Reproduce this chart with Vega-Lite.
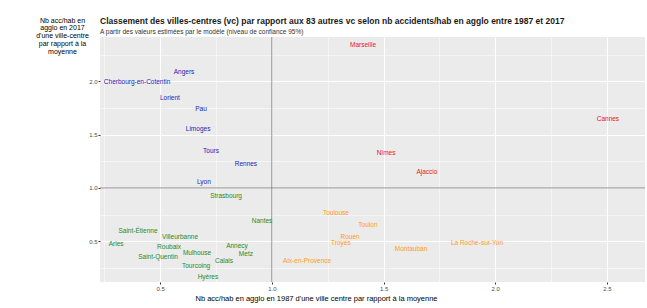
{
  "$schema": "https://vega.github.io/schema/vega-lite/v6.json",
  "autosize": "none",
  "width": 545,
  "height": 245,
  "padding": {"left": 100, "top": 37, "right": 2, "bottom": 26},
  "background": "white",
  "config": {
    "font": "Liberation Sans",
    "view": {"fill": "#ebebeb", "stroke": null},
    "title": {"anchor": "start", "frame": "group", "fontSize": 8.5, "fontWeight": "bold", "color": "#1a1a1a", "subtitleFontSize": 6.5, "subtitleColor": "#333333", "offset": 4, "subtitlePadding": 3}
  },
  "title": {
    "text": "Classement des villes-centres (vc) par rapport aux 83 autres vc selon nb accidents/hab en agglo entre 1987 et 2017",
    "subtitle": "A partir des valeurs estimées par le modèle (niveau de confiance 95%)",
    "dy": 23
  },
  "data": {
    "values": [
      {"ville": "Angers", "x": 0.607, "y": 2.087, "groupe": "bleu"},
      {"ville": "Cherbourg-en-Cotentin", "x": 0.397, "y": 1.993, "groupe": "bleu"},
      {"ville": "Lorient", "x": 0.544, "y": 1.843, "groupe": "bleu"},
      {"ville": "Pau", "x": 0.683, "y": 1.74, "groupe": "bleu"},
      {"ville": "Limoges", "x": 0.67, "y": 1.553, "groupe": "bleu"},
      {"ville": "Tours", "x": 0.728, "y": 1.347, "groupe": "bleu"},
      {"ville": "Rennes", "x": 0.884, "y": 1.225, "groupe": "bleu"},
      {"ville": "Lyon", "x": 0.696, "y": 1.056, "groupe": "bleu"},
      {"ville": "Strasbourg", "x": 0.795, "y": 0.925, "groupe": "vert"},
      {"ville": "Nantes", "x": 0.956, "y": 0.691, "groupe": "vert"},
      {"ville": "Saint-Étienne", "x": 0.401, "y": 0.597, "groupe": "vert"},
      {"ville": "Arles", "x": 0.303, "y": 0.475, "groupe": "vert"},
      {"ville": "Villeurbanne", "x": 0.589, "y": 0.541, "groupe": "vert"},
      {"ville": "Roubaix", "x": 0.54, "y": 0.447, "groupe": "vert"},
      {"ville": "Mulhouse", "x": 0.665, "y": 0.391, "groupe": "vert"},
      {"ville": "Saint-Quentin", "x": 0.491, "y": 0.353, "groupe": "vert"},
      {"ville": "Annecy", "x": 0.844, "y": 0.456, "groupe": "vert"},
      {"ville": "Metz", "x": 0.884, "y": 0.381, "groupe": "vert"},
      {"ville": "Calais", "x": 0.786, "y": 0.316, "groupe": "vert"},
      {"ville": "Tourcoing", "x": 0.661, "y": 0.269, "groupe": "vert"},
      {"ville": "Hyères", "x": 0.714, "y": 0.166, "groupe": "vert"},
      {"ville": "Toulouse", "x": 1.287, "y": 0.766, "groupe": "orange"},
      {"ville": "Toulon", "x": 1.43, "y": 0.653, "groupe": "orange"},
      {"ville": "Rouen", "x": 1.35, "y": 0.541, "groupe": "orange"},
      {"ville": "Troyes", "x": 1.309, "y": 0.485, "groupe": "orange"},
      {"ville": "Montauban", "x": 1.623, "y": 0.428, "groupe": "orange"},
      {"ville": "La Roche-sur-Yon", "x": 1.918, "y": 0.485, "groupe": "orange"},
      {"ville": "Aix-en-Provence", "x": 1.158, "y": 0.316, "groupe": "orange"},
      {"ville": "Marseille", "x": 1.408, "y": 2.34, "groupe": "rouge"},
      {"ville": "Nîmes", "x": 1.511, "y": 1.328, "groupe": "rouge"},
      {"ville": "Ajaccio", "x": 1.694, "y": 1.15, "groupe": "rouge"},
      {"ville": "Cannes", "x": 2.504, "y": 1.647, "groupe": "rouge"}
    ]
  },
  "encoding": {
    "x": {
      "field": "x", "type": "quantitative",
      "scale": {"domain": [0.231, 2.67], "nice": false, "zero": false},
      "axis": {
        "values": [0.25, 0.5, 0.75, 1, 1.25, 1.5, 1.75, 2, 2.25, 2.5],
        "labelExpr": "(datum.value * 2) % 1 == 0 ? format(datum.value, '.1f') : ''",
        "domain": false,
        "grid": true,
        "gridColor": "white",
        "gridWidth": {"condition": {"test": "(datum.value * 2) % 1 == 0", "value": 1.1}, "value": 0.5},
        "tickOpacity": {"condition": {"test": "(datum.value * 2) % 1 == 0", "value": 1}, "value": 0},
        "tickColor": "#333333",
        "tickSize": 2,
        "labelPadding": 1,
        "labelFontSize": 6,
        "labelColor": "#4d4d4d",
        "title": "Nb acc/hab en agglo en 1987 d'une ville centre par rapport à la moyenne",
        "titleFontSize": 7.5,
        "titleFontWeight": "normal",
        "titleColor": "#000000",
        "titleX": 216,
        "titleY": 16,
        "titleAlign": "center",
        "titleBaseline": "middle"
      }
    },
    "y": {
      "field": "y", "type": "quantitative",
      "scale": {"domain": [0.119, 2.415], "nice": false, "zero": false},
      "axis": {
        "values": [0.25, 0.5, 0.75, 1, 1.25, 1.5, 1.75, 2, 2.25],
        "labelExpr": "(datum.value * 2) % 1 == 0 ? format(datum.value, '.1f') : ''",
        "domain": false,
        "grid": true,
        "gridColor": "white",
        "gridWidth": {"condition": {"test": "(datum.value * 2) % 1 == 0", "value": 1.1}, "value": 0.5},
        "tickOpacity": {"condition": {"test": "(datum.value * 2) % 1 == 0", "value": 1}, "value": 0},
        "tickColor": "#333333",
        "tickSize": 2,
        "labelPadding": 1,
        "labelFontSize": 6,
        "labelColor": "#4d4d4d",
        "title": ["Nb acc/hab en", "agglo en 2017", "d'une ville-centre", "par rapport à la", "moyenne"],
        "titleAngle": 0,
        "titleFontSize": 7,
        "titleFontWeight": "normal",
        "titleColor": "#000000",
        "titleLineHeight": 7.8,
        "titleX": -38,
        "titleY": -21,
        "titleAlign": "center",
        "titleBaseline": "top"
      }
    }
  },
  "layer": [
    {"data": {"values": [{"ref": 1}]}, "mark": {"type": "rule", "color": "#666666", "strokeWidth": 0.7}, "encoding": {"x": {"field": "ref", "type": "quantitative"}, "y": null}},
    {"data": {"values": [{"ref": 1}]}, "mark": {"type": "rule", "color": "#666666", "strokeWidth": 0.7}, "encoding": {"y": {"field": "ref", "type": "quantitative"}, "x": null}},
    {
      "mark": {"type": "text", "fontSize": 6.5, "align": "center", "baseline": "middle"},
      "encoding": {
        "text": {"field": "ville"},
        "color": {
          "field": "groupe", "type": "nominal",
          "scale": {"domain": ["bleu", "vert", "orange", "rouge"], "range": ["#2424b8", "#1f8a2a", "#ff9a1f", "#e8161b"]},
          "legend": null
        }
      }
    }
  ]
}
